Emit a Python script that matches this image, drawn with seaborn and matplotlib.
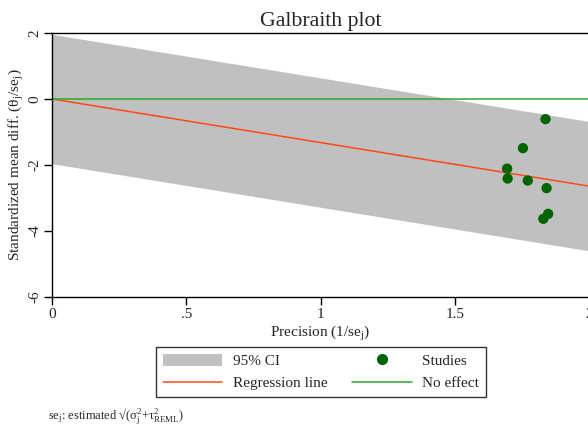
import numpy as np
import pandas as pd
import matplotlib
matplotlib.use("Agg")
import matplotlib.pyplot as plt
import seaborn as sns
from matplotlib.patches import Patch
from matplotlib.lines import Line2D

# Study-level values: precision (1/se_j) and standardized effect (theta_j/se_j)
precision = [1.838, 1.754, 1.695, 1.697, 1.772, 1.842, 1.848, 1.830]
std_effect = [-0.61, -1.49, -2.11, -2.41, -2.47, -2.70, -3.48, -3.63]

# Regression through the origin and the +/-1.96 band around it
slope = -1.32
z_crit = 1.96
x_range = [0.0, 2.0]

x_ticks = [0, 0.5, 1, 1.5, 2]
x_tick_labels = ["0", ".5", "1", "1.5", "2"]
y_ticks = [-6, -4, -2, 0, 2]

sns.set_theme(style="white")
plt.rcParams["font.family"] = ["Liberation Serif", "DejaVu Serif"]
plt.rcParams["mathtext.fontset"] = "custom"
plt.rcParams["mathtext.rm"] = "Liberation Serif"
plt.rcParams["mathtext.it"] = "Liberation Serif:italic"

fig = plt.figure(figsize=(5.88, 4.25), dpi=100)
W, H = 588, 425
left, right, top, bottom = 52, 589, 33, 297
ax = fig.add_axes([left / W, 1 - bottom / H, (right - left) / W, (bottom - top) / H])

band_x = np.array(x_range)
fit_y = slope * band_x
ax.fill_between(band_x, fit_y - z_crit, fit_y + z_crit, color="#C0C0C0", lw=0, zorder=1)

lines = pd.DataFrame({"x": np.concatenate([band_x, band_x]),
                      "y": np.concatenate([fit_y, [0.0, 0.0]]),
                      "kind": ["Regression line"] * 2 + ["No effect"] * 2})
sns.lineplot(data=lines, x="x", y="y", hue="kind",
             palette={"Regression line": "#FF4A1A", "No effect": "#2EA82E"},
             linewidth=1.1, legend=False, ax=ax, zorder=2)

studies = pd.DataFrame({"precision": precision, "effect": std_effect})
sns.scatterplot(data=studies, x="precision", y="effect", color="#006400",
                s=55, edgecolor="none", ax=ax, zorder=3)

ax.set_xlim(*x_range)
ax.set_ylim(-6, 2)
ax.set_xticks(x_ticks)
ax.set_xticklabels(x_tick_labels)
ax.set_yticks(y_ticks)
ax.set_yticklabels([str(v) for v in y_ticks], rotation=90, va="center")
ax.tick_params(axis="both", direction="out", length=6, width=1, color="black",
               labelsize=11, pad=2, bottom=True, left=True)
for s in ax.spines.values():
    s.set_color("black")
    s.set_linewidth(1.0)

ax.set_xlabel("Precision (1/se$_\\mathrm{j}$)", fontsize=11, labelpad=2)
ax.set_ylabel("Standardized mean diff. (θ$_\\mathrm{j}$/se$_\\mathrm{j}$)", fontsize=11, labelpad=1)
ax.set_title("Galbraith plot", fontsize=15.7, pad=5)

handles = [
    Patch(facecolor="#C0C0C0", edgecolor="none"),
    Line2D([], [], color="#FF4A1A", lw=1.1),
    Line2D([], [], marker="o", color="#006400", lw=0, markersize=7),
    Line2D([], [], color="#2EA82E", lw=1.1),
]
labels = ["95% CI", "Regression line", "Studies", "No effect"]
leg = fig.legend(handles, labels, ncol=2, loc="center",
                 bbox_to_anchor=(321 / W, 1 - 372 / H), frameon=True,
                 fontsize=11, handlelength=3.9, columnspacing=1.6,
                 handletextpad=0.7, borderpad=0.45, labelspacing=0.5,
                 handleheight=0.9, fancybox=False)
leg.get_frame().set_edgecolor("black")
leg.get_frame().set_linewidth(1.0)

fig.text(48 / W, 1 - 416 / H,
         "se$_\\mathrm{j}$: estimated √(σ$_\\mathrm{j}^2$+τ$^2_\\mathrm{REML}$)",
         fontsize=9, ha="left", va="center")

fig.savefig("out.png", dpi=100)
